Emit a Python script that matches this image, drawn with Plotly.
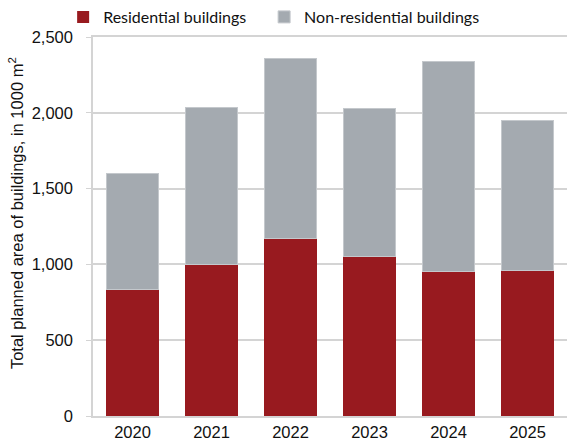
import plotly.graph_objects as go

years = ["2020", "2021", "2022", "2023", "2024", "2025"]
residential = [832, 998, 1170, 1050, 955, 957]
non_residential = [770, 1039, 1185, 977, 1383, 993]

y_ticks = [0, 500, 1000, 1500, 2000, 2500]
y_tick_text = ["0", "500", "1,000", "1,500", "2,000", "2,500"]

RED = "#981A1F"
GRAY = "#A4AAB0"
GRID = "#D4D4D4"
TEXT = "#111111"
FONT = "Liberation Sans"


def legend_box(x):
    return dict(
        orientation="h", x=x, xanchor="left", y=1.008, yanchor="bottom",
        font=dict(family="Lato, sans-serif", size=16, color=TEXT),
        itemwidth=30, bgcolor="rgba(0,0,0,0)", visible=True,
    )


fig = go.Figure()
fig.add_trace(go.Bar(
    x=years, y=residential, name="Residential buildings",
    marker=dict(color=RED, line=dict(color=RED, width=0)),
    legend="legend2", showlegend=True,
))
fig.add_trace(go.Bar(
    x=years, y=non_residential, name="Non-residential buildings",
    marker=dict(color=GRAY, line=dict(color="#C4C8CC", width=1)),
    legend="legend3", showlegend=True,
))

fig.add_annotation(
    text="Total planned area of buildings, in 1000 m<sup>2</sup>",
    xref="paper", yref="paper", x=-0.162, y=0.536,
    xanchor="center", yanchor="middle", textangle=-90, showarrow=False,
    font=dict(size=16.5, family=FONT, color=TEXT),
)

fig.update_layout(
    width=567, height=445,
    margin=dict(l=93, r=0, t=37, b=29),
    barmode="stack", bargap=0.33,
    plot_bgcolor="white", paper_bgcolor="white",
    font=dict(family=FONT, size=16.5, color=TEXT),
    showlegend=True,
    legend2=legend_box(-0.063),
    legend3=legend_box(0.361),
    xaxis=dict(
        showline=True, linecolor=GRID, linewidth=1.5, mirror=True,
        ticks="", showgrid=False, tickfont=dict(size=16.5),
    ),
    yaxis=dict(
        range=[0, 2500], tickvals=y_ticks, ticktext=y_tick_text,
        showgrid=True, gridcolor=GRID, gridwidth=1.5,
        showline=True, linecolor=GRID, linewidth=1.5,
        ticks="outside", ticklen=5, tickcolor=GRID,
        ticklabelstandoff=10,
        tickfont=dict(size=16.5), zeroline=False,
    ),
)

fig.write_html("out.html")
